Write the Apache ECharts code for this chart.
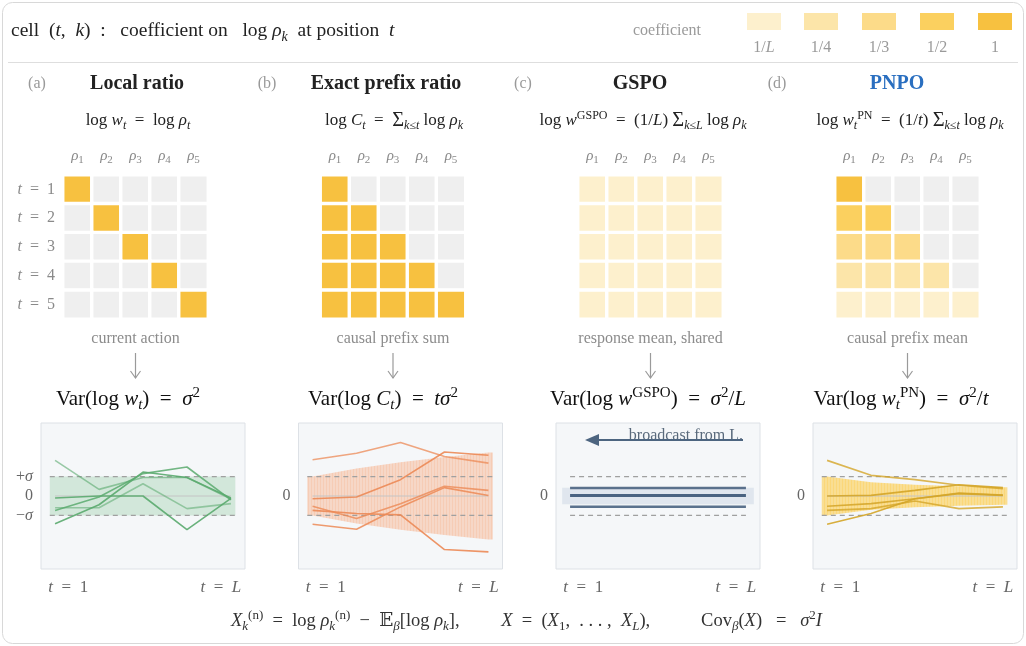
<!DOCTYPE html>
<html>
<head>
<meta charset="UTF-8">
<title>coefficient cells</title>
<style>
  html, body { margin: 0; padding: 0; background: #fff; }
  #main { width: 1026px; height: 646px; }
</style>
<script src="https://cdn.jsdelivr.net/npm/echarts/dist/echarts.min.js"></script>
</head>
<body>
<div id="main"></div>
<script>
// ---- data ----
var tokenCols = ['1', '2', '3', '4', '5'];        // rho_k
var positionRows = ['1', '2', '3', '4', '5'];     // t
var legendValues = [0.2, 0.25, 0.333, 0.5, 1];
var legendLabels = ['{r|1/}{i|L}', '{r|1/4}', '{r|1/3}', '{r|1/2}', '{r|1}'];

var coefLocal = [
  [1, 0, 0, 0, 0],
  [0, 1, 0, 0, 0],
  [0, 0, 1, 0, 0],
  [0, 0, 0, 1, 0],
  [0, 0, 0, 0, 1]
];
var coefPrefix = [
  [1, 0, 0, 0, 0],
  [1, 1, 0, 0, 0],
  [1, 1, 1, 0, 0],
  [1, 1, 1, 1, 0],
  [1, 1, 1, 1, 1]
];
var coefGspo = [
  [0.2, 0.2, 0.2, 0.2, 0.2],
  [0.2, 0.2, 0.2, 0.2, 0.2],
  [0.2, 0.2, 0.2, 0.2, 0.2],
  [0.2, 0.2, 0.2, 0.2, 0.2],
  [0.2, 0.2, 0.2, 0.2, 0.2]
];
var coefPnpo = [
  [1, 0, 0, 0, 0],
  [0.5, 0.5, 0, 0, 0],
  [0.333, 0.333, 0.333, 0, 0],
  [0.25, 0.25, 0.25, 0.25, 0],
  [0.2, 0.2, 0.2, 0.2, 0.2]
];

var tSteps = [1, 2, 3, 4, 5];
// sample paths in units of sigma
var localPaths = [
  [1.83, 0.34, 0.95, 0.95, -0.15],
  [-0.1, 0.0, 0.0, -1.73, -0.12],
  [-0.6, -0.6, 0.63, -0.65, -0.39],
  [-0.74, -0.05, 1.15, 1.49, -0.2],
  [-1.42, -0.45, 1.23, 0.95, -0.1]
];
var prefixPaths = [
  [1.86, 2.2, 2.75, 2.03, 1.69],
  [-0.14, -0.05, 0.84, 2.26, 2.09],
  [-0.53, -1.16, -0.4, 0.5, 0.29],
  [-0.74, -0.9, -0.97, -2.75, -2.87],
  [-1.45, -1.71, -0.56, 0.43, 0.03]
];
var gspoLevels = [0.41, 0.03, -0.55];
var pnpoPaths = [
  [1.83, 1.06, 0.84, 0.55, 0.38],
  [0.0, 0.03, 0.29, 0.58, 0.43],
  [-0.53, -0.39, -0.14, 0.15, 0.05],
  [-0.74, -0.65, -0.26, -0.65, -0.56],
  [-1.45, -0.9, -0.14, 0.12, 0.03]
];
// band half-widths (sigma units) at t = 1..5
var bandLocal = [1, 1, 1, 1, 1];
var bandPrefix = [1, 1.41, 1.73, 2, 2.24];
var bandGspo = [0.43, 0.43, 0.43, 0.43, 0.43];
var bandPnpo = [1, 0.71, 0.58, 0.5, 0.45];

// ---- styling ----
var FONT = '"Liberation Serif", "DejaVu Serif", serif';
var coefColors = ['#fdf0cd', '#fce5a9', '#fcdb89', '#fbd05f', '#f7c140'];
var emptyCell = '#efefef';
var panelOff = [0, 257.5, 515, 772];

function rich(size, color) {
  var s = Math.round(size * 0.7);
  var base = { fontFamily: FONT, fill: color, color: color };
  function m(o) { return Object.assign({}, base, o); }
  return {
    r: m({ fontSize: size, lineHeight: size * 1.32 }),
    i: m({ fontSize: size, fontStyle: 'italic', lineHeight: size * 1.32 }),
    S: m({ fontSize: size * 1.2, lineHeight: size * 1.32 }),
    b: m({ fontSize: s, fontStyle: 'italic', verticalAlign: 'bottom', lineHeight: s }),
    bR: m({ fontSize: s, verticalAlign: 'bottom', lineHeight: s }),
    pR: m({ fontSize: s, verticalAlign: 'top', lineHeight: s }),
    B: m({ fontSize: size, fontWeight: 'bold', lineHeight: size * 1.32 })
  };
}
function mtext(x, y, text, size, color, align) {
  return {
    type: 'text', x: x, y: y, silent: true,
    style: {
      text: text, rich: rich(size, color), fill: color,
      font: size + 'px ' + FONT,
      align: align || 'center', verticalAlign: 'middle'
    }
  };
}
// faint vertical hatching, like the stripes of the filled envelopes
function stripes(base, line) {
  var c = document.createElement('canvas');
  c.width = 3; c.height = 8;
  var g = c.getContext('2d');
  g.fillStyle = base; g.fillRect(0, 0, 3, 8);
  g.fillStyle = line; g.fillRect(2, 0, 1, 8);
  return { image: c, repeat: 'repeat' };
}

var chart = echarts.init(document.getElementById('main'));

var grids = [], xAxes = [], yAxes = [], series = [], graphics = [];
var coefSets = [coefLocal, coefPrefix, coefGspo, coefPnpo];

// heatmap grids 0..3
coefSets.forEach(function (mat, p) {
  grids.push({ left: 63 + panelOff[p], top: 175, width: 145, height: 144 });
  xAxes.push({
    type: 'category', gridIndex: p, data: tokenCols, position: 'top',
    axisLine: { show: false }, axisTick: { show: false }, splitLine: { show: false },
    axisLabel: {
      margin: 9, interval: 0,
      formatter: function (v) { return '{i|ρ}{bR|' + v + '}'; },
      rich: rich(15, '#8a8a8a')
    }
  });
  yAxes.push({
    type: 'category', gridIndex: p, data: positionRows, inverse: true,
    axisLine: { show: false }, axisTick: { show: false }, splitLine: { show: false },
    axisLabel: {
      show: p === 0, margin: 8, interval: 0,
      formatter: function (v) { return '{i|t}{r|  =  ' + v + '}'; },
      rich: rich(16, '#8a8a8a')
    }
  });
  var data = [];
  mat.forEach(function (row, t) {
    row.forEach(function (v, k) { data.push([k, t, v]); });
  });
  series.push({
    type: 'heatmap', xAxisIndex: p, yAxisIndex: p, data: data, silent: true,
    itemStyle: { borderColor: '#ffffff', borderWidth: 3.4 },
    emphasis: { disabled: true }
  });
});

// line grids 4..7
var lineSets = [
  { paths: localPaths, color: '#5aaa6e', band: bandLocal, bandFill: 'rgba(128,196,146,0.30)', alpha: [0.6, 0.9, 0.55, 0.85, 0.9], yl: [-1, 0, 1] },
  { paths: prefixPaths, color: '#ec8a56', band: bandPrefix, bandFill: stripes('rgba(248,176,138,0.45)', 'rgba(248,176,138,0.28)'), alpha: [0.75, 0.9, 0.8, 0.9, 0.85], yl: [0] },
  { paths: null, color: '#4a6381', band: bandGspo, bandFill: 'rgba(205,216,230,0.55)', yl: [0] },
  { paths: pnpoPaths, color: '#d4a528', band: bandPnpo, bandFill: stripes('rgba(252,206,84,0.62)', 'rgba(252,206,84,0.42)'), alpha: [0.8, 0.9, 0.85, 0.8, 0.9], yl: [0] }
];

lineSets.forEach(function (cfg, p) {
  var gi = 4 + p;
  grids.push({
    left: 41 + panelOff[p], top: 423, width: 204, height: 146,
    show: true, backgroundColor: '#f5f7f9', borderColor: '#dde1e6', borderWidth: 1
  });
  xAxes.push({
    type: 'value', gridIndex: gi, min: 0.68, max: 5.32,
    axisLine: { show: false }, axisTick: { show: false }, splitLine: { show: false },
    axisLabel: {
      customValues: [1.3, 4.77], margin: 7,
      formatter: function (v) { return v < 3 ? '{i|t}{r|  =  1}' : '{i|t}{r|  =  }{i|L}'; },
      rich: rich(17, '#666666')
    }
  });
  yAxes.push({
    type: 'value', gridIndex: gi, min: -3.75, max: 3.75,
    axisLine: { show: false }, axisTick: { show: false }, splitLine: { show: false },
    axisLabel: {
      customValues: cfg.yl, margin: 8,
      formatter: function (v) { return v === 0 ? '{r|0}' : (v > 0 ? '{r|+}{i|σ}' : '{r|−}{i|σ}'); },
      rich: rich(16, '#666666')
    }
  });

  // band polygon
  var x0 = p === 2 ? 0.82 : 0.88, x1 = p === 2 ? 5.18 : 5.1;
  var bx = [x0].concat(tSteps, [x1]);
  var bh = [cfg.band[0]].concat(cfg.band, [cfg.band[cfg.band.length - 1]]);
  series.push({
    type: 'custom', xAxisIndex: gi, yAxisIndex: gi, silent: true, z: 1,
    data: bx.map(function (x, i) { return [x, bh[i]]; }),
    renderItem: function (params, api) {
      if (params.dataIndex !== 0) return null;
      var up = [], dn = [];
      for (var i = 0; i < bx.length; i++) {
        up.push(api.coord([bx[i], bh[i]]));
        dn.unshift(api.coord([bx[i], -bh[i]]));
      }
      return { type: 'polygon', shape: { points: up.concat(dn) }, style: { fill: cfg.bandFill } };
    }
  });

  // dashed +/- sigma
  var dx0 = p === 2 ? 1 : 0.88, dx1 = p === 2 ? 5 : 5.1;
  [1, -1].forEach(function (s) {
    series.push({
      type: 'line', xAxisIndex: gi, yAxisIndex: gi, silent: true, z: 2,
      data: [[dx0, s], [dx1, s]], symbol: 'none',
      lineStyle: { color: '#a0a0a0', width: 1.2, type: [5, 4] }
    });
  });
  // zero line
  if (p !== 2) {
    series.push({
      type: 'line', xAxisIndex: gi, yAxisIndex: gi, silent: true, z: 2,
      data: [[1, 0], [5, 0]], symbol: 'none',
      lineStyle: { color: '#c4c4c4', width: 1 }
    });
  }
  if (cfg.paths) {
    cfg.paths.forEach(function (path, j) {
      series.push({
        type: 'line', xAxisIndex: gi, yAxisIndex: gi, silent: true, z: 3,
        data: path.map(function (v, i) { return [tSteps[i], v]; }),
        symbol: 'none',
        lineStyle: { color: cfg.color, width: 1.6, opacity: cfg.alpha[j] }
      });
    });
  } else {
    gspoLevels.forEach(function (lv, j) {
      series.push({
        type: 'line', xAxisIndex: gi, yAxisIndex: gi, silent: true, z: 3,
        data: [[1, lv], [5, lv]], symbol: 'none',
        lineStyle: { color: cfg.color, width: j === 1 ? 3 : 2.4, opacity: j === 1 ? 1 : 0.9 }
      });
    });
  }
});

// ---- frame, header, legend ----
graphics.push({ type: 'rect', silent: true, z: -10, shape: { x: 2.5, y: 2.5, width: 1021, height: 641, r: 10 },
  style: { fill: 'none', stroke: '#d8d8d8', lineWidth: 1 } });
graphics.push({ type: 'line', silent: true, shape: { x1: 8, y1: 62.5, x2: 1018, y2: 62.5 },
  style: { stroke: '#dedede', lineWidth: 1 } });
graphics.push(mtext(11, 31, '{r|cell  (}{i|t}{r|,  }{i|k}{r|)  :   coefficient on   log }{i|ρ}{b|k}{r|  at position  }{i|t}', 19.5, '#222222', 'left'));
graphics.push(mtext(667, 31, '{r|coefficient}', 16, '#9a9a9a'));
var swX = [747, 804, 862, 920, 978];
legendValues.forEach(function (v, i) {
  graphics.push({ type: 'rect', silent: true, shape: { x: swX[i], y: 13, width: 34, height: 17 },
    style: { fill: coefColors[i] } });
  graphics.push(mtext(swX[i] + 17, 48, legendLabels[i], 16, '#9a9a9a'));
});

// ---- panel headings ----
var panelLabels = ['(a)', '(b)', '(c)', '(d)'];
var panelLabelX = [37, 267, 523, 777];
var titles = ['Local ratio', 'Exact prefix ratio', 'GSPO', 'PNPO'];
var titleX = [137, 386, 640, 897];
var titleColors = ['#222222', '#222222', '#222222', '#2a6fc0'];
var formulas = [
  '{r|log }{i|w}{b|t}{r|  =  log }{i|ρ}{b|t}',
  '{r|log }{i|C}{b|t}{r|  =  }{S|Σ}{b|k≤t}{r| log }{i|ρ}{b|k}',
  '{r|log }{i|w}{pR|GSPO}{r|  =  (1/}{i|L}{r|) }{S|Σ}{b|k≤L}{r| log }{i|ρ}{b|k}',
  '{r|log }{i|w}{b|t}{pR|PN}{r|  =  (1/}{i|t}{r|) }{S|Σ}{b|k≤t}{r| log }{i|ρ}{b|k}'
];
var formulaX = [138, 394, 643, 910];
var captions = ['current action', 'causal prefix sum', 'response mean, shared', 'causal prefix mean'];
var varTexts = [
  '{r|Var(log }{i|w}{b|t}{r|)  =  }{i|σ}{pR|2}',
  '{r|Var(log }{i|C}{b|t}{r|)  =  }{i|tσ}{pR|2}',
  '{r|Var(log }{i|w}{pR|GSPO}{r|)  =  }{i|σ}{pR|2}{r|/}{i|L}',
  '{r|Var(log }{i|w}{b|t}{pR|PN}{r|)  =  }{i|σ}{pR|2}{r|/}{i|t}'
];
var varX = [128, 383, 648, 901];

for (var p = 0; p < 4; p++) {
  var hc = 63 + panelOff[p] + 72.5;
  graphics.push(mtext(panelLabelX[p], 84, '{r|' + panelLabels[p] + '}', 16, '#9a9a9a'));
  graphics.push(mtext(titleX[p], 84, '{B|' + titles[p] + '}', 20, titleColors[p]));
  graphics.push(mtext(formulaX[p], 121, formulas[p], 17, '#222222'));
  graphics.push(mtext(hc, 339, '{r|' + captions[p] + '}', 16, '#8c8c8c'));
  graphics.push({ type: 'line', silent: true, shape: { x1: hc, y1: 353, x2: hc, y2: 378 },
    style: { stroke: '#9a9a9a', lineWidth: 1.2 } });
  graphics.push({ type: 'polyline', silent: true, shape: { points: [[hc - 5, 371], [hc, 378], [hc + 5, 371]] },
    style: { stroke: '#9a9a9a', lineWidth: 1.2, fill: 'none' } });
  graphics.push(mtext(varX[p], 399, varTexts[p], 21, '#111111'));
}

// broadcast annotation in (c)
graphics.push({ type: 'line', silent: true, z: 10, shape: { x1: 743, y1: 440, x2: 596, y2: 440 },
  style: { stroke: '#4d6580', lineWidth: 2 } });
graphics.push({ type: 'polygon', silent: true, z: 10, shape: { points: [[585, 440], [599, 434], [599, 446]] },
  style: { fill: '#4d6580' } });
graphics.push(mtext(743, 436, '{r|broadcast from L.}', 16, '#5a6a7c', 'right'));

// footer
graphics.push(mtext(231, 621,
  '{i|X}{b|k}{pR|(n)}{r|  =  log }{i|ρ}{b|k}{pR|(n)}{r|  −  𝔼}{b|β}{r|[log }{i|ρ}{b|k}{r|],         }' +
  '{i|X}{r|  =  (}{i|X}{bR|1}{r|,  . . . ,  }{i|X}{b|L}{r|),           Cov}{b|β}{r|(}{i|X}{r|)   =   }{i|σ}{pR|2}{i|I}',
  18.5, '#333333', 'left'));

var pieces = [{ min: -0.01, max: 0.01, color: emptyCell }];
legendValues.forEach(function (v, i) {
  pieces.push({ min: v - 0.01, max: v + 0.01, color: coefColors[i] });
});

var option = {
  animation: false,
  textStyle: { fontFamily: FONT },
  grid: grids,
  xAxis: xAxes,
  yAxis: yAxes,
  visualMap: {
    type: 'piecewise', show: false, dimension: 2,
    seriesIndex: [0, 1, 2, 3], pieces: pieces
  },
  graphic: graphics,
  series: series
};
chart.setOption(option);
</script>
</body>
</html>
